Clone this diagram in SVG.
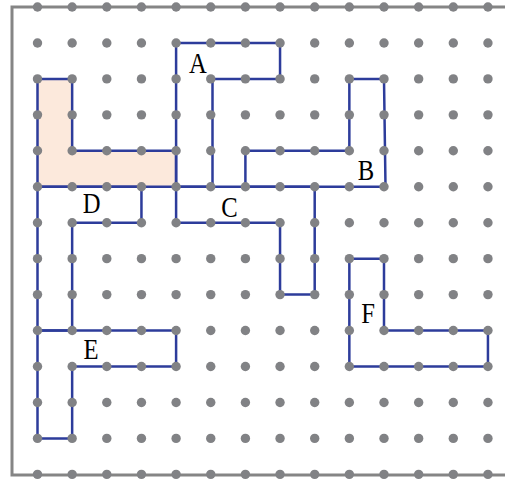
<svg xmlns="http://www.w3.org/2000/svg" xmlns:xlink="http://www.w3.org/1999/xlink" width="505" height="480" viewBox="0 0 505 480">
<style>
.frame{fill:none;stroke:#858585;stroke-width:3}
.shape{fill:none;stroke:#2d3c9b;stroke-width:2.5;stroke-linejoin:miter}
.shaded{fill:#fce9dc}
.dot{fill:#818285}
.lbl{font-family:"Liberation Serif","Times New Roman",serif;font-size:29px;fill:#000;text-anchor:middle}
</style>
<defs>
<g id="row">
<circle class="dot" cx="37.5" cy="0" r="4.7"/><circle class="dot" cx="72.15" cy="0" r="4.7"/><circle class="dot" cx="106.8" cy="0" r="4.7"/><circle class="dot" cx="141.45" cy="0" r="4.7"/><circle class="dot" cx="176.1" cy="0" r="4.7"/><circle class="dot" cx="210.75" cy="0" r="4.7"/><circle class="dot" cx="245.4" cy="0" r="4.7"/><circle class="dot" cx="280.05" cy="0" r="4.7"/><circle class="dot" cx="314.7" cy="0" r="4.7"/><circle class="dot" cx="349.35" cy="0" r="4.7"/><circle class="dot" cx="384" cy="0" r="4.7"/><circle class="dot" cx="418.65" cy="0" r="4.7"/><circle class="dot" cx="453.3" cy="0" r="4.7"/><circle class="dot" cx="487.95" cy="0" r="4.7"/>
</g>
</defs>
<rect class="frame" x="12" y="7" width="520" height="468"/>
<g id="shaded">
<polygon class="shape shaded" points="37.5,78.9 72.15,78.9 72.15,150.8 176.1,150.8 176.1,186.75 37.5,186.75"/>
</g>
<g id="connectors"></g>
<g id="A">
<polygon class="shape" points="176.1,42.95 280.05,42.95 280.05,78.9 212.5,78.9 212.5,186.75 176.1,186.75"/>
<text class="lbl" transform="translate(198,72.5) scale(0.85,1)">A</text>
</g>
<g id="B">
<polygon class="shape" points="245.4,150.8 349.35,150.8 349.35,78.9 384,78.9 385.5,186.75 245.4,186.75"/>
<text class="lbl" transform="translate(366,179.5) scale(0.85,1)">B</text>
</g>
<g id="C">
<polygon class="shape" points="176.1,186.75 314.7,186.75 314.7,294.6 280.05,294.6 280.05,222.7 176.1,222.7"/>
<text class="lbl" transform="translate(229.5,217) scale(0.85,1)">C</text>
</g>
<g id="D">
<polygon class="shape" points="37.5,186.75 141.45,186.75 141.45,222.7 72.15,222.7 72.15,330.55 37.5,330.55"/>
<text class="lbl" transform="translate(91.7,213.3) scale(0.85,1)">D</text>
</g>
<g id="E">
<polygon class="shape" points="37.5,330.55 176.1,330.55 176.1,366.5 72.15,366.5 72.15,438.4 37.5,438.4"/>
<text class="lbl" transform="translate(91,359) scale(0.85,1)">E</text>
</g>
<g id="F">
<polygon class="shape" points="349.35,258.65 384,258.65 384,330.55 487.95,330.55 487.95,366.5 349.35,366.5"/>
<text class="lbl" transform="translate(368,323) scale(0.85,1)">F</text>
</g>
<g id="grid">
<use xlink:href="#row" y="7"/><use xlink:href="#row" y="42.95"/><use xlink:href="#row" y="78.9"/><use xlink:href="#row" y="114.85"/><use xlink:href="#row" y="150.8"/><use xlink:href="#row" y="186.75"/><use xlink:href="#row" y="222.7"/><use xlink:href="#row" y="258.65"/><use xlink:href="#row" y="294.6"/><use xlink:href="#row" y="330.55"/><use xlink:href="#row" y="366.5"/><use xlink:href="#row" y="402.45"/><use xlink:href="#row" y="438.4"/><use xlink:href="#row" y="474.35"/>
</g>
</svg>
